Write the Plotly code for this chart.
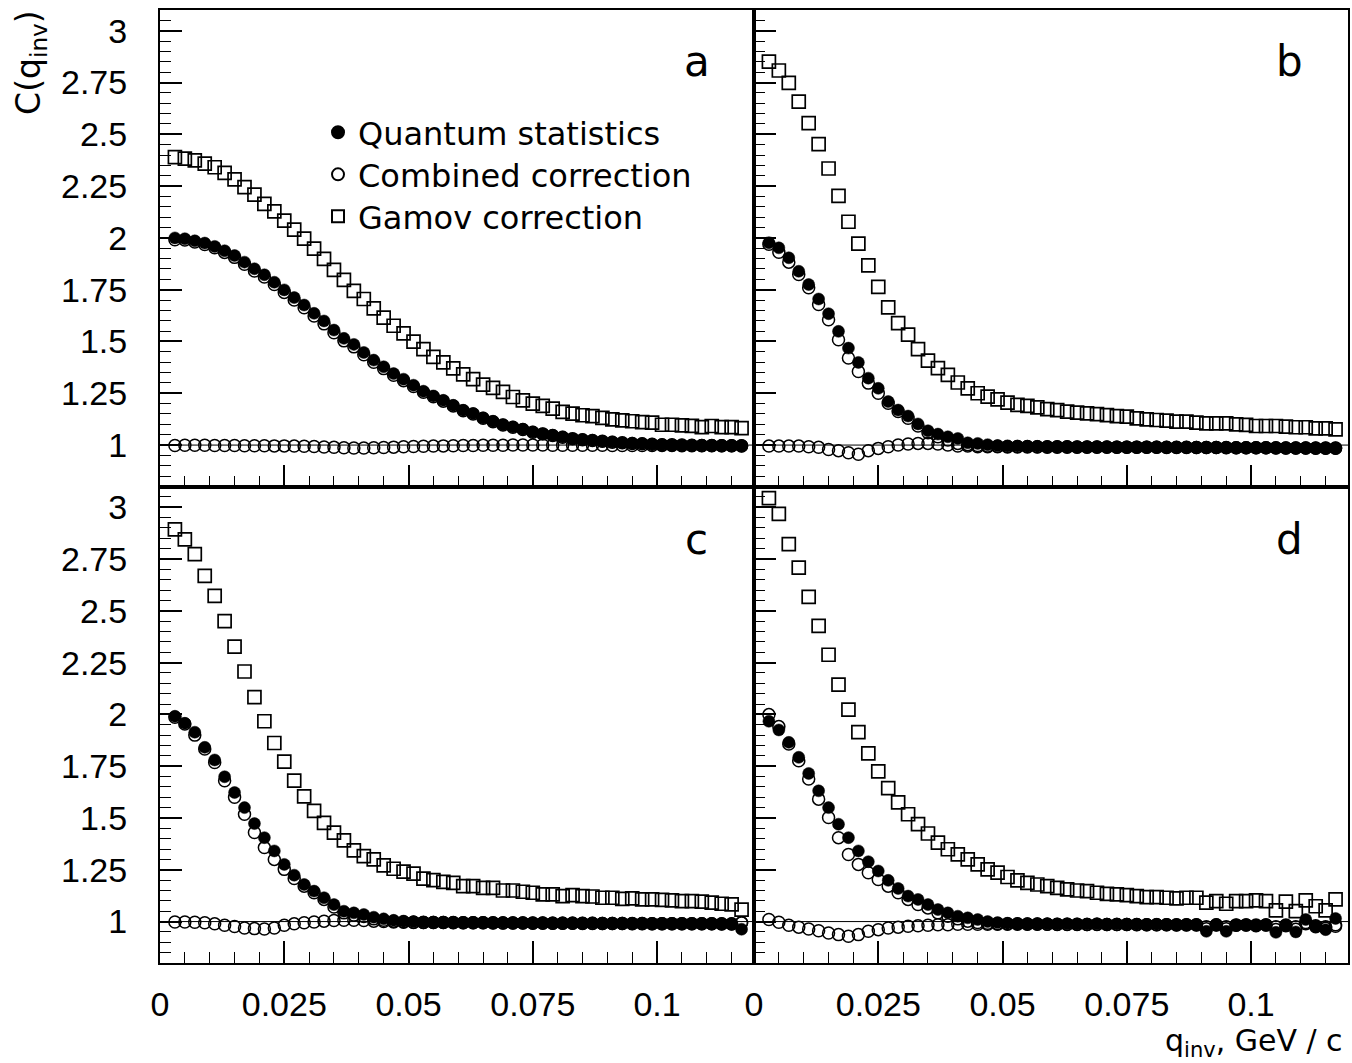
import plotly.graph_objects as go
from plotly.subplots import make_subplots

# bin centres, GeV/c
q = [0.003, 0.005, 0.007, 0.009, 0.011, 0.013, 0.015, 0.017, 0.019, 0.021,
     0.023, 0.025, 0.027, 0.029, 0.031, 0.033, 0.035, 0.037, 0.039, 0.041,
     0.043, 0.045, 0.047, 0.049, 0.051, 0.053, 0.055, 0.057, 0.059, 0.061,
     0.063, 0.065, 0.067, 0.069, 0.071, 0.073, 0.075, 0.077, 0.079, 0.081,
     0.083, 0.085, 0.087, 0.089, 0.091, 0.093, 0.095, 0.097, 0.099, 0.101,
     0.103, 0.105, 0.107, 0.109, 0.111, 0.113, 0.115, 0.117]

# ---------------- panel a ----------------
qs_a = [2.000, 1.996, 1.986, 1.975, 1.959, 1.938, 1.915, 1.883, 1.851, 1.822,
        1.786, 1.749, 1.712, 1.676, 1.636, 1.599, 1.555, 1.515, 1.486, 1.447,
        1.410, 1.378, 1.345, 1.318, 1.289, 1.260, 1.237, 1.216, 1.192, 1.168,
        1.152, 1.131, 1.115, 1.098, 1.087, 1.076, 1.063, 1.055, 1.047, 1.039,
        1.031, 1.027, 1.023, 1.018, 1.015, 1.011, 1.009, 1.007, 1.004, 1.003,
        1.001, 1.000, 0.999, 0.999, 0.998, 0.998, 0.997, 0.997]
corr_a = [1.991, 1.990, 1.980, 1.968, 1.952, 1.930, 1.906, 1.873, 1.840, 1.811,
          1.775, 1.737, 1.700, 1.663, 1.623, 1.585, 1.542, 1.503, 1.474, 1.436,
          1.400, 1.369, 1.337, 1.311, 1.283, 1.255, 1.233, 1.212, 1.189, 1.166,
          1.150, 1.129, 1.113, 1.097, 1.086, 1.075, 1.062, 1.054, 1.046, 1.038,
          1.031, 1.026, 1.022, 1.018, 1.014, 1.011, 1.008, 1.006, 1.004, 1.002,
          1.001, 1.000, 0.999, 0.998, 0.998, 0.997, 0.997, 0.996]
comb_a = [0.998, 0.999, 0.999, 0.999, 0.998, 0.998, 0.998, 0.997, 0.997, 0.997,
          0.996, 0.996, 0.995, 0.994, 0.993, 0.991, 0.989, 0.987, 0.986, 0.986,
          0.987, 0.988, 0.990, 0.992, 0.993, 0.994, 0.995, 0.996, 0.997, 0.998,
          0.998, 0.999, 0.999, 0.999, 1.000, 1.000, 1.000, 1.000, 0.999, 0.999,
          0.999, 0.999, 0.999, 0.999, 0.998, 0.998, 0.998, 0.998, 0.998, 0.998,
          0.998, 0.997, 0.997, 0.997, 0.997, 0.997, 0.997, 0.997]
gam_a = [2.390, 2.383, 2.374, 2.358, 2.341, 2.314, 2.282, 2.245, 2.209, 2.164,
         2.128, 2.083, 2.040, 1.996, 1.948, 1.899, 1.846, 1.797, 1.744, 1.705,
         1.660, 1.615, 1.576, 1.539, 1.499, 1.463, 1.426, 1.399, 1.370, 1.341,
         1.318, 1.292, 1.276, 1.257, 1.232, 1.216, 1.200, 1.189, 1.176, 1.160,
         1.152, 1.144, 1.140, 1.131, 1.124, 1.119, 1.115, 1.111, 1.108, 1.098,
         1.098, 1.095, 1.093, 1.087, 1.092, 1.087, 1.087, 1.082]

# ---------------- panel b ----------------
qs_b = [1.977, 1.952, 1.904, 1.839, 1.775, 1.705, 1.634, 1.549, 1.468, 1.399,
        1.323, 1.274, 1.210, 1.169, 1.140, 1.102, 1.069, 1.053, 1.040, 1.032,
        1.011, 1.008, 1.002, 0.998, 0.996, 0.995, 0.994, 0.994, 0.993, 0.993,
        0.993, 0.992, 0.992, 0.992, 0.991, 0.991, 0.991, 0.990, 0.990, 0.990,
        0.990, 0.989, 0.989, 0.989, 0.988, 0.988, 0.988, 0.987, 0.987, 0.987,
        0.986, 0.986, 0.986, 0.985, 0.985, 0.985, 0.984, 0.984]
corr_b = [1.969, 1.931, 1.883, 1.823, 1.759, 1.678, 1.605, 1.508, 1.420, 1.355,
          1.299, 1.250, 1.202, 1.162, 1.129, 1.092, 1.060, 1.040, 1.024, 1.008,
          1.002, 0.998, 0.995, 0.994, 0.993, 0.993, 0.993, 0.992, 0.992, 0.992,
          0.992, 0.991, 0.991, 0.991, 0.991, 0.990, 0.990, 0.990, 0.990, 0.989,
          0.989, 0.989, 0.989, 0.988, 0.988, 0.988, 0.988, 0.987, 0.987, 0.987,
          0.987, 0.986, 0.986, 0.986, 0.986, 0.985, 0.985, 0.985]
comb_b = [0.995, 0.995, 0.995, 0.995, 0.992, 0.989, 0.979, 0.973, 0.963, 0.956,
          0.973, 0.984, 0.992, 1.000, 1.005, 1.008, 1.008, 1.005, 1.000, 0.995,
          0.995, 0.992, 0.992, 0.992, 0.991, 0.991, 0.991, 0.991, 0.990, 0.990,
          0.990, 0.990, 0.990, 0.990, 0.989, 0.989, 0.989, 0.989, 0.989, 0.989,
          0.988, 0.988, 0.988, 0.988, 0.988, 0.988, 0.987, 0.987, 0.987, 0.987,
          0.987, 0.987, 0.986, 0.986, 0.986, 0.986, 0.986, 0.986]
gam_b = [2.851, 2.808, 2.748, 2.658, 2.554, 2.453, 2.335, 2.203, 2.078, 1.972,
         1.867, 1.764, 1.665, 1.589, 1.533, 1.463, 1.408, 1.371, 1.339, 1.302,
         1.274, 1.250, 1.234, 1.221, 1.205, 1.194, 1.189, 1.182, 1.173, 1.169,
         1.161, 1.157, 1.153, 1.149, 1.145, 1.140, 1.137, 1.129, 1.124, 1.121,
         1.118, 1.113, 1.113, 1.108, 1.105, 1.105, 1.105, 1.100, 1.097, 1.092,
         1.092, 1.092, 1.089, 1.086, 1.086, 1.081, 1.081, 1.076]

# ---------------- panel c ----------------
qs_c = [1.991, 1.957, 1.914, 1.841, 1.780, 1.699, 1.623, 1.550, 1.473, 1.405,
        1.341, 1.276, 1.224, 1.179, 1.147, 1.115, 1.082, 1.050, 1.042, 1.034,
        1.021, 1.013, 1.006, 1.002, 1.000, 0.998, 0.997, 0.996, 0.996, 0.995,
        0.995, 0.995, 0.994, 0.995, 0.994, 0.994, 0.993, 0.994, 0.993, 0.993,
        0.993, 0.992, 0.993, 0.992, 0.992, 0.992, 0.991, 0.992, 0.991, 0.991,
        0.991, 0.990, 0.990, 0.990, 0.989, 0.989, 0.988, 0.963]
corr_c = [1.986, 1.954, 1.900, 1.833, 1.768, 1.680, 1.600, 1.518, 1.430, 1.357,
          1.300, 1.252, 1.208, 1.171, 1.139, 1.107, 1.070, 1.042, 1.032, 1.024,
          1.013, 1.006, 1.002, 0.999, 0.997, 0.996, 0.995, 0.995, 0.994, 0.994,
          0.994, 0.994, 0.993, 0.993, 0.993, 0.993, 0.992, 0.992, 0.992, 0.992,
          0.992, 0.991, 0.991, 0.991, 0.991, 0.991, 0.990, 0.990, 0.990, 0.990,
          0.990, 0.989, 0.989, 0.989, 0.989, 0.988, 0.988, 0.994]
comb_c = [0.998, 0.998, 0.997, 0.994, 0.989, 0.982, 0.976, 0.969, 0.966, 0.964,
          0.969, 0.982, 0.989, 0.994, 0.998, 1.002, 1.005, 1.006, 1.006, 1.005,
          1.002, 1.000, 0.998, 0.997, 0.996, 0.996, 0.995, 0.995, 0.995, 0.994,
          0.994, 0.994, 0.994, 0.993, 0.993, 0.993, 0.993, 0.993, 0.992, 0.992,
          0.992, 0.992, 0.992, 0.991, 0.991, 0.991, 0.991, 0.991, 0.990, 0.990,
          0.990, 0.990, 0.990, 0.989, 0.989, 0.989, 0.989, 0.994]
gam_c = [2.893, 2.845, 2.774, 2.669, 2.572, 2.450, 2.327, 2.207, 2.083, 1.967,
         1.862, 1.772, 1.680, 1.604, 1.534, 1.476, 1.429, 1.392, 1.344, 1.316,
         1.300, 1.271, 1.255, 1.241, 1.231, 1.207, 1.200, 1.192, 1.187, 1.171,
         1.171, 1.163, 1.163, 1.150, 1.150, 1.144, 1.139, 1.131, 1.131, 1.123,
         1.128, 1.123, 1.121, 1.115, 1.115, 1.110, 1.112, 1.107, 1.107, 1.105,
         1.102, 1.099, 1.099, 1.096, 1.091, 1.086, 1.083, 1.058]

# ---------------- panel d ----------------
qs_d = [1.967, 1.925, 1.865, 1.793, 1.715, 1.631, 1.550, 1.470, 1.405, 1.341,
        1.289, 1.244, 1.199, 1.160, 1.123, 1.107, 1.082, 1.058, 1.042, 1.026,
        1.018, 1.010, 1.000, 0.995, 0.992, 0.990, 0.990, 0.989, 0.989, 0.988,
        0.989, 0.988, 0.988, 0.989, 0.987, 0.988, 0.987, 0.987, 0.986, 0.987,
        0.986, 0.984, 0.986, 0.985, 0.953, 0.984, 0.953, 0.982, 0.984, 0.980,
        0.985, 0.948, 0.982, 0.950, 1.010, 0.977, 0.961, 1.015]
corr_d = [1.999, 1.941, 1.857, 1.776, 1.688, 1.591, 1.502, 1.405, 1.324, 1.276,
          1.236, 1.203, 1.171, 1.139, 1.107, 1.082, 1.066, 1.042, 1.026, 1.013,
          1.002, 0.995, 0.992, 0.990, 0.989, 0.989, 0.988, 0.988, 0.987, 0.987,
          0.987, 0.987, 0.986, 0.987, 0.986, 0.986, 0.986, 0.985, 0.985, 0.985,
          0.985, 0.984, 0.984, 0.984, 0.965, 0.983, 0.965, 0.982, 0.983, 0.980,
          0.983, 0.962, 0.980, 0.963, 0.995, 0.975, 0.968, 0.977]
comb_d = [1.010, 0.997, 0.982, 0.973, 0.964, 0.956, 0.945, 0.937, 0.929, 0.937,
          0.953, 0.961, 0.969, 0.973, 0.977, 0.980, 0.982, 0.985, 0.985, 0.987,
          0.987, 0.987, 0.987, 0.987, 0.987, 0.987, 0.987, 0.987, 0.987, 0.986,
          0.986, 0.986, 0.986, 0.986, 0.986, 0.986, 0.986, 0.986, 0.985, 0.985,
          0.985, 0.985, 0.985, 0.985, 0.975, 0.985, 0.975, 0.984, 0.984, 0.983,
          0.984, 0.975, 0.983, 0.975, 0.990, 0.980, 0.975, 0.985]
gam_d = [3.044, 2.968, 2.822, 2.708, 2.567, 2.427, 2.288, 2.144, 2.023, 1.914,
         1.812, 1.725, 1.644, 1.575, 1.518, 1.470, 1.425, 1.381, 1.349, 1.324,
         1.300, 1.276, 1.252, 1.236, 1.215, 1.199, 1.187, 1.179, 1.171, 1.163,
         1.155, 1.150, 1.147, 1.139, 1.134, 1.131, 1.128, 1.123, 1.118, 1.118,
         1.115, 1.112, 1.115, 1.115, 1.091, 1.099, 1.086, 1.099, 1.099, 1.102,
         1.099, 1.054, 1.096, 1.050, 1.102, 1.074, 1.054, 1.107]

panel_letters = ["a", "b", "c", "d"]
legend_names = ["Quantum statistics", "Combined correction", "Gamov correction"]
x_ticks = [0, 0.025, 0.05, 0.075, 0.1]
y_ticks = [1, 1.25, 1.5, 1.75, 2, 2.25, 2.5, 2.75, 3]

panels = [
    (1, 1, qs_a, corr_a, comb_a, gam_a),
    (1, 2, qs_b, corr_b, comb_b, gam_b),
    (2, 1, qs_c, corr_c, comb_c, gam_c),
    (2, 2, qs_d, corr_d, comb_d, gam_d),
]

fig = make_subplots(rows=2, cols=2, shared_xaxes=True, shared_yaxes=True,
                    horizontal_spacing=0, vertical_spacing=0)

MS = 12
for i, (r, c, qs, corr, comb, gam) in enumerate(panels):
    first = (i == 0)
    fig.add_trace(go.Scatter(x=q, y=comb, mode="markers", name=legend_names[1],
                             legend="legend2", showlegend=first,
                             marker=dict(symbol="circle-open", size=MS, color="black",
                                         line=dict(width=1.5, color="black"))),
                  row=r, col=c)
    fig.add_trace(go.Scatter(x=q, y=gam, mode="markers", name=legend_names[2],
                             legend="legend3", showlegend=first,
                             marker=dict(symbol="square-open", size=13, color="black",
                                         line=dict(width=1.7, color="black"))),
                  row=r, col=c)
    fig.add_trace(go.Scatter(x=q, y=corr, mode="markers", name="corrected",
                             showlegend=False,
                             marker=dict(symbol="circle-open", size=MS, color="black",
                                         line=dict(width=1.5, color="black"))),
                  row=r, col=c)
    fig.add_trace(go.Scatter(x=q, y=qs, mode="markers", name=legend_names[0],
                             legend="legend", showlegend=first,
                             marker=dict(symbol="circle", size=MS, color="black",
                                         line=dict(width=0.5, color="black"))),
                  row=r, col=c)

tickfont = dict(family="Liberation Sans, Arial, sans-serif", size=34, color="black")
fig.update_xaxes(range=[0, 0.1195], tickvals=x_ticks, ticks="inside", ticklen=22,
                 tickwidth=1.5, tickcolor="black",
                 minor=dict(dtick=0.005, tick0=0, ticks="inside", ticklen=11,
                            tickwidth=1.2, tickcolor="black"),
                 showline=True, linecolor="black", linewidth=2, mirror=True,
                 showgrid=False, zeroline=False, tickfont=tickfont,
                 ticklabelstandoff=10, automargin=False)
fig.update_yaxes(range=[0.8, 3.1], tickvals=y_ticks, ticks="inside", ticklen=22,
                 tickwidth=1.5, tickcolor="black",
                 minor=dict(dtick=0.05, tick0=0, ticks="inside", ticklen=11,
                            tickwidth=1.2, tickcolor="black"),
                 showline=True, linecolor="black", linewidth=2, mirror=True,
                 showgrid=False, zeroline=False, tickfont=tickfont,
                 ticklabelstandoff=24, automargin=False)

# reference line at C = 1 in each panel
for ax in ["", "2", "3", "4"]:
    fig.add_shape(type="line", xref=f"x{ax} domain", yref=f"y{ax}",
                  x0=0, x1=1, y0=1, y1=1, line=dict(color="black", width=1),
                  layer="below")

letter_font = dict(family="DejaVu Sans, sans-serif", size=42, color="black")
letter_pos = [(0.452, 0.946), (0.951, 0.946), (0.452, 0.444), (0.951, 0.444)]
for letter, (lx, ly) in zip(panel_letters, letter_pos):
    fig.add_annotation(text=letter, x=lx, y=ly, xref="paper", yref="paper",
                       showarrow=False, font=letter_font,
                       xanchor="center", yanchor="middle")

fig.add_annotation(text="C(q<sub>inv</sub>)", textangle=-90, x=-0.109, y=0.944,
                   xref="paper", yref="paper", showarrow=False,
                   font=dict(family="DejaVu Sans, sans-serif", size=33, color="black"),
                   xanchor="center", yanchor="middle")
fig.add_annotation(text="q<sub>inv</sub>, GeV / c", x=0.9975, y=-0.0835,
                   xref="paper", yref="paper", showarrow=False,
                   font=dict(family="DejaVu Sans, sans-serif", size=30, color="black"),
                   xanchor="right", yanchor="middle")

legend_font = dict(family="DejaVu Sans, sans-serif", size=32, color="black")
legend_common = dict(x=0.133, xanchor="left", yanchor="top",
                     bgcolor="rgba(0,0,0,0)", borderwidth=0,
                     font=legend_font, itemsizing="constant")

fig.update_layout(
    width=1352, height=1063,
    margin=dict(l=160, r=4, t=10, b=100, autoexpand=False),
    paper_bgcolor="white", plot_bgcolor="white",
    showlegend=True,
    legend=dict(y=0.9003, **legend_common),
    legend2=dict(y=0.8562, **legend_common),
    legend3=dict(y=0.8122, **legend_common),
)

fig.write_html("out.html", config={"displayModeBar": False},
               post_script="document.body.style.margin='0';document.body.style.overflow='hidden';")
